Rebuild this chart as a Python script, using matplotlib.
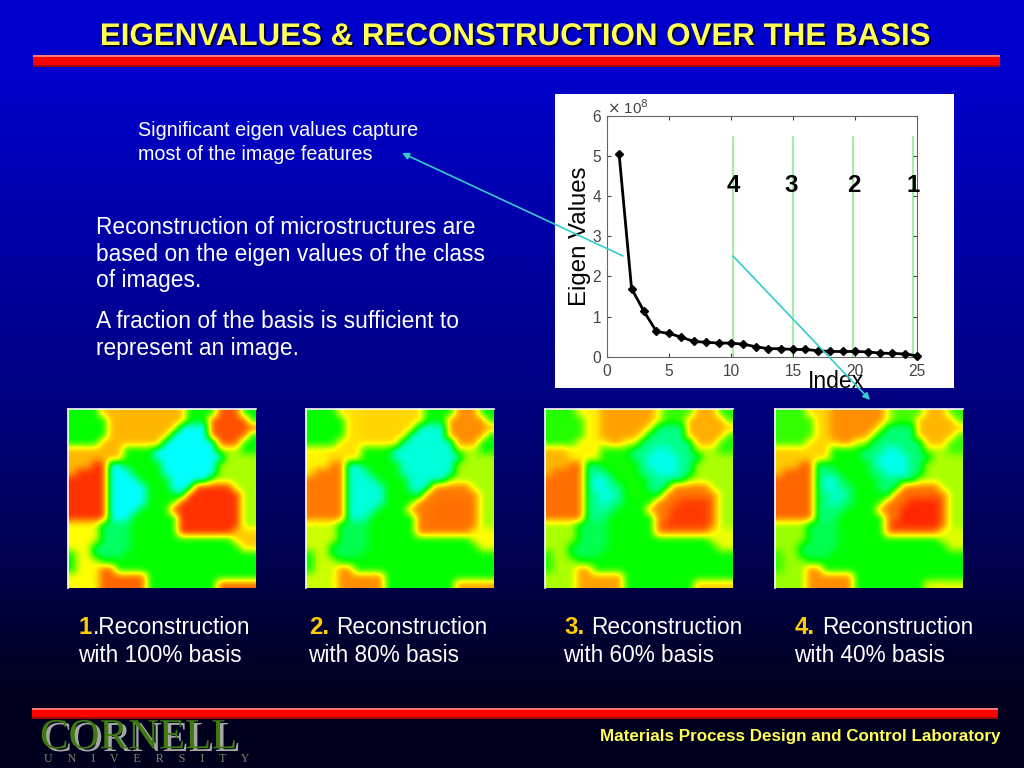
import matplotlib
matplotlib.use("Agg")
import matplotlib.pyplot as plt
import matplotlib.patheffects as pe
import numpy as np
from matplotlib.colors import LinearSegmentedColormap
from matplotlib.patches import Rectangle

plt.rcParams['font.family'] = ['Liberation Sans', 'DejaVu Sans']

# eigenvalue curve
index = [1, 2, 3, 4, 5, 6, 7, 8, 9, 10, 11, 12, 13, 14, 15, 16, 17, 18, 19, 20, 21, 22, 23, 24, 25]
eigen_values = [5.05, 1.7, 1.13, 0.63, 0.58, 0.49, 0.38, 0.36, 0.34, 0.34, 0.31, 0.25, 0.2,
                0.2, 0.18, 0.18, 0.15, 0.13, 0.13, 0.13, 0.12, 0.09, 0.08, 0.07, 0.02]
cut_x = [10.2, 15.0, 19.85, 24.65]
cut_labels = ['4', '3', '2', '1']
label_x = [10.2, 14.85, 19.85, 24.7]

# microstructure grain map
grain_map = [
    "AAAATTTBBBBBBBUCCCCDDDQQ",
    "AAAAATTBBBBBBBUCCCDDDDDQ",
    "AAAAATTBBBBBBUEEEEDDDDDD",
    "AAAAATTBBBBBUEEEEEDDDDDQ",
    "AAAATTTTBBUUEEEEEEEDDDQQ",
    "SSSTTTTFFFFEEEWWEEEIIIQQ",
    "SSSTTTTFFFFEEWWWWEEEIIII",
    "SSSHHGGFFFFFEWWWWEEIIIII",
    "SHHHHGGGFFFFEEWWWEEIIIII",
    "HHHHHGXXGFFFFEEEEEIIIIII",
    "HHHHHGXXGGFFFEEEJJJJJIII",
    "HHHHHGGXXGFFFFEJJJJJJJII",
    "HHHHHGGXGGNNNNJJJZZZZJII",
    "HHHHHGGGGNNNNJJJZZZZZJII",
    "HHHHHGGGNNNNNNJJZZZZZJII",
    "LLLLMMMMNNNNNNJZZZZZZJII",
    "LLLLMMMMNNNNNNJJJJJJJKKK",
    "LLLLMMMMNNNNNNNNNNNNNKKK",
    "LLLMMMMMNNNNNNNNNNNNNNKK",
    "RLLMMMMNNNNNNNNNNNNNNNNN",
    "RLLLNNNNNNNNNNNNNNNNNNNN",
    "RLLLOONNNNNNNNNNNNNNNNNN",
    "LLLLOOOOOONNNNNNNNNNNNNN",
    "LLLLOOOOOONNNNNNNNNPPPPP",
]
grains = "ABCDQEFGHIJKLMNOPRSTUWXZ"
# colour level of each grain in each reconstruction
basis_100 = [0.50, 0.72, 0.50, 0.82, 0.50, 0.37, 0.50, 0.37, 0.85, 0.60, 0.85, 0.70,
             0.65, 0.45, 0.50, 0.80, 0.80, 0.50, 0.72, 0.72, 0.72, 0.37, 0.37, 0.85]
basis_80 = [0.50, 0.69, 0.50, 0.76, 0.50, 0.39, 0.50, 0.39, 0.78, 0.60, 0.78, 0.65,
            0.62, 0.46, 0.50, 0.76, 0.74, 0.50, 0.66, 0.68, 0.68, 0.39, 0.39, 0.79]
basis_60 = [0.52, 0.74, 0.53, 0.73, 0.52, 0.43, 0.51, 0.43, 0.79, 0.60, 0.78, 0.64,
            0.60, 0.46, 0.50, 0.74, 0.70, 0.52, 0.72, 0.66, 0.64, 0.38, 0.38, 0.84]
basis_40 = [0.53, 0.76, 0.54, 0.72, 0.53, 0.44, 0.50, 0.44, 0.80, 0.60, 0.79, 0.63,
            0.59, 0.46, 0.50, 0.76, 0.64, 0.53, 0.70, 0.69, 0.62, 0.38, 0.39, 0.86]
panels = [basis_100, basis_80, basis_60, basis_40]
panel_left = [68, 306, 545, 775]

body_lines = ["Reconstruction of microstructures are",
              "based on the eigen values of the class",
              "of images."]
body_lines2 = ["A fraction of the basis is sufficient to",
               "represent an image."]
caption_num = ['1', '2.', '3.', '4.']
caption_top = ['.Reconstruction', 'Reconstruction', 'Reconstruction', 'Reconstruction']
caption_pct = ['with 100% basis', 'with 80% basis', 'with 60% basis', 'with 40% basis']
caption_x = [79, 309, 564, 795]
caption_text_x = [93, 336, 591, 822]

W, H = 1024, 768
YELLOW = '#ffff55'
CYAN = '#33cccc'


def px(size):
    return size * 0.72


def add_px_axes(fig, left, top, width, height, **kw):
    return fig.add_axes([left / W, 1 - (top + height) / H, width / W, height / H], **kw)


fig = plt.figure(figsize=(10.24, 7.68), dpi=100)

# background gradient
bg = fig.add_axes([0, 0, 1, 1], zorder=0)
shade = np.array([[0.0, 0.0, 0.80], [0.0, 0.0, 0.66], [0.0, 0.0, 0.52], [0.0, 0.0, 0.34], [0.0, 0.0, 0.12]])
bg.imshow(shade[:, np.newaxis, :], aspect='auto', extent=(0, W, H, 0), interpolation='bilinear')
bg.set_xlim(0, W)
bg.set_ylim(H, 0)
bg.axis('off')

# red bars
for x0, y0, w, h in [(33, 55, 967, 12), (32, 708, 966, 11)]:
    bg.add_patch(Rectangle((x0, y0), w, h, facecolor='#ff0000', edgecolor='none'))
    bg.add_patch(Rectangle((x0, y0), w, 1.5, facecolor='#ff7777', edgecolor='none'))
    bg.add_patch(Rectangle((x0, y0 + h - 2.5), w, 2.5, facecolor='#a00808', edgecolor='none'))

# white card behind the chart
bg.add_patch(Rectangle((555, 94), 399, 294, facecolor='white', edgecolor='none'))

# eigenvalue chart
ax = add_px_axes(fig, 606.7, 116, 310.6, 240.7, zorder=1)
ax.plot(index, eigen_values, color='black', lw=2, marker='D', ms=4.5, clip_on=False, zorder=3)
for xc in cut_x:
    ax.plot([xc, xc], [0, 5.48], color='#90ee90', lw=1.2, zorder=1)
for xc, lab in zip(label_x, cut_labels):
    ax.text(xc, 4.27, lab, fontsize=px(24), fontweight='bold', ha='center', va='center', color='black')
ax.set_xlim(0, 25)
ax.set_ylim(0, 6)
ax.set_xticks([0, 5, 10, 15, 20, 25])
ax.set_yticks([0, 1, 2, 3, 4, 5, 6])
ax.tick_params(direction='in', length=3, labelsize=px(15.5), colors='#444444', top=True, right=True)
ax.tick_params(axis='x', pad=5)
ax.tick_params(axis='y', pad=4)
for s in ax.spines.values():
    s.set_color('#666666')
ax.set_ylabel('Eigen Values', fontsize=px(24), labelpad=1)
ax.text(0, 6.22, r'$\times$ 10$^{8}$', fontsize=px(15), color='#444444', va='center')

# reconstructions
levels_cmap = LinearSegmentedColormap.from_list(
    'grains', [(0, '#0000ff'), (0.37, '#00ffff'), (0.5, '#00ff00'), (0.65, '#ffff00'), (0.9, '#ff0000'), (1, '#ff0000')])
for left, levels in zip(panel_left, panels):
    level_of = dict(zip(grains, levels))
    grid = np.array([[level_of[c] for c in row] for row in grain_map])
    im_ax = add_px_axes(fig, left, 409, 188, 179, zorder=1)
    im_ax.imshow(grid, cmap=levels_cmap, vmin=0, vmax=1, aspect='auto', interpolation='bicubic')
    im_ax.set_xticks([])
    im_ax.set_yticks([])
    for name, s in im_ax.spines.items():
        s.set_visible(name in ('top', 'left'))
        s.set_color('white')
        s.set_linewidth(1.2)

# overlay for text and arrows
top = fig.add_axes([0, 0, 1, 1], zorder=2)
top.set_xlim(0, W)
top.set_ylim(H, 0)
top.axis('off')
top.patch.set_alpha(0)

top.text(836, 381, 'Index', fontsize=px(23), ha='center', va='center', color='black')

top.text(515, 37, 'EIGENVALUES & RECONSTRUCTION OVER THE BASIS', fontsize=px(31.3), fontweight='bold',
         color=YELLOW, ha='center', va='center',
         path_effects=[pe.withSimplePatchShadow(offset=(1.2, -1.2), shadow_rgbFace=(0, 0, 0), alpha=1, rho=1)])

top.annotate('', xy=(402, 153), xytext=(623, 256),
             arrowprops=dict(arrowstyle='-|>', color=CYAN, lw=1.2, shrinkA=0, shrinkB=0))
top.annotate('', xy=(870, 400), xytext=(733, 256),
             arrowprops=dict(arrowstyle='-|>', color=CYAN, lw=1.2, shrinkA=0, shrinkB=0))

top.text(138, 130, 'Significant eigen values capture', fontsize=px(19.8), color='white', va='center')
top.text(138, 154, 'most of the image features', fontsize=px(19.8), color='white', va='center')
for y, line in zip([227, 254, 281], body_lines):
    top.text(96, y, line, fontsize=px(22.7), color='white', va='center')
for y, line in zip([322, 349], body_lines2):
    top.text(96, y, line, fontsize=px(22.7), color='white', va='center')

for i in range(4):
    top.text(caption_x[i], 627, caption_num[i], fontsize=px(24), fontweight='bold', color='#ffcc00', va='center')
    top.text(caption_text_x[i], 628, caption_top[i], fontsize=px(22.6), color='white', va='center')
    top.text(caption_x[i] - 1, 656, caption_pct[i], fontsize=px(22.6), color='white', va='center')

# footer
top.text(1001, 737, 'Materials Process Design and Control Laboratory', fontsize=px(17), fontweight='bold',
         color=YELLOW, ha='right', va='center')
top.text(40, 738, 'CORNELL', fontsize=px(42.8), family='Liberation Serif', color='#3f7a10', va='center',
         path_effects=[pe.withSimplePatchShadow(offset=(2.5, -2), shadow_rgbFace=(0.65, 0.65, 0.65), alpha=1, rho=1)])
top.text(44, 759, 'U     N     I     V     E     R     S     I     T     Y', fontsize=px(12),
         family='Liberation Serif', color='#7a8a60', va='center')

fig.savefig('out.png', dpi=100)
